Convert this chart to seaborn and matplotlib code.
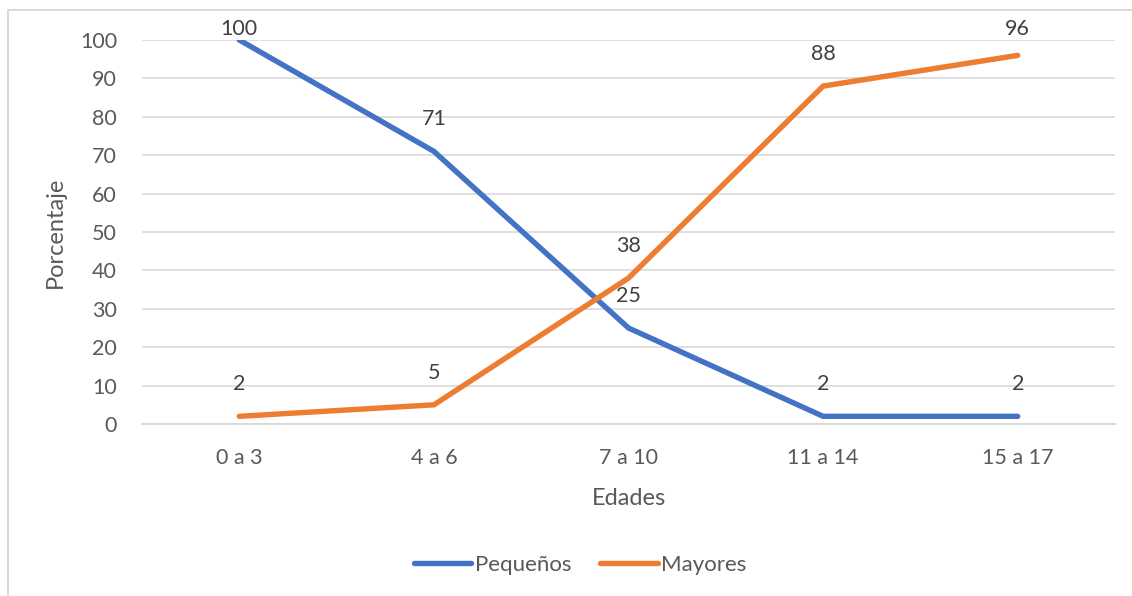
import matplotlib
matplotlib.use("Agg")
import matplotlib.pyplot as plt
import seaborn as sns
import pandas as pd
from matplotlib.lines import Line2D

categorias = ["0 a 3", "4 a 6", "7 a 10", "11 a 14", "15 a 17"]
pequenos = [100, 71, 25, 2, 2]
mayores = [2, 5, 38, 88, 96]
series = ["Pequeños", "Mayores"]
colores = ["#4472C4", "#ED7D31"]
yticks = list(range(0, 101, 10))

sns.set_theme(style="white")
plt.rcParams["font.family"] = ["Lato", "DejaVu Sans"]
txt = "#595959"

df = pd.DataFrame({
    "Edades": categorias * 2,
    "Porcentaje": pequenos + mayores,
    "Serie": [series[0]] * len(categorias) + [series[1]] * len(categorias),
})
df["x"] = list(range(len(categorias))) * 2

fig = plt.figure(figsize=(11.32, 5.96), dpi=100)
W, H = 1132, 596
ax_top, ax_bot = 40, 424
ax = fig.add_axes([142 / W, 1 - ax_bot / H, (1115 - 142) / W, (ax_bot - ax_top) / H])

sns.lineplot(data=df, x="x", y="Porcentaje", hue="Serie", palette=colores,
             linewidth=3.9, ax=ax, legend=False, sort=False)
for l in ax.lines:
    l.set_solid_capstyle("round")
    l.set_solid_joinstyle("miter")

ax.set_xlim(-0.5, len(categorias) - 0.5)
ax.set_ylim(0, 100)
ax.set_yticks(yticks)
ax.set_xticks(range(len(categorias)))
ax.set_xticklabels(categorias)
ax.yaxis.grid(True, color="#D9D9D9", linewidth=1.2)
ax.set_axisbelow(True)
for s in ["top", "right", "left"]:
    ax.spines[s].set_visible(False)
ax.spines["bottom"].set_color("#D9D9D9")
ax.spines["bottom"].set_linewidth(1.4)
ax.tick_params(axis="both", length=0, labelsize=15.5, labelcolor=txt)
ax.tick_params(axis="y", pad=18)
ax.tick_params(axis="x", pad=17)
ax.set_xlabel("Edades", fontsize=17, color=txt, labelpad=15)
ax.set_ylabel("Porcentaje", fontsize=17, color=txt, labelpad=10)

# data labels above the points, kept inside the chart area like Excel does
px_per_unit = (ax_bot - ax_top) / 100.0
for vals in (pequenos, mayores):
    for i, v in enumerate(vals):
        pix = ax_bot - v * px_per_unit
        lab = max(pix - 32, 29)
        off_pt = (pix - lab) * 0.72
        ax.annotate(str(v), (i, v), xytext=(0, off_pt), textcoords="offset points",
                    ha="center", va="center", fontsize=15.5, color="#404040",
                    annotation_clip=False)

handles = [Line2D([0], [0], color=c, lw=3.9, solid_capstyle="round") for c in colores]
fig.legend(handles, series, loc="center", bbox_to_anchor=(580 / W, 1 - 565 / H),
           ncol=2, frameon=False, fontsize=16, labelcolor=txt,
           handlelength=2.6, handletextpad=0.15, columnspacing=1.3)

fig.add_artist(Line2D([8 / W, 8 / W], [0, 1 - 10 / H], color="#D9D9D9", lw=1.4,
                      transform=fig.transFigure))
fig.add_artist(Line2D([8 / W, 1], [1 - 10 / H, 1 - 10 / H], color="#D9D9D9", lw=1.4,
                      transform=fig.transFigure))

fig.savefig("out.png", dpi=100, facecolor="white")
